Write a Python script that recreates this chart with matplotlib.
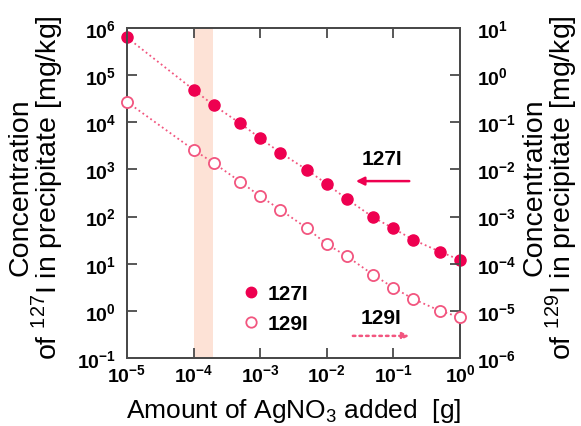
import numpy as np
import matplotlib.pyplot as plt
from matplotlib.lines import Line2D

plt.rcParams['font.family'] = ['Liberation Sans', 'DejaVu Sans']
plt.rcParams['mathtext.fontset'] = 'custom'
plt.rcParams['mathtext.rm'] = 'Liberation Sans'
plt.rcParams['mathtext.bf'] = 'Liberation Sans:bold'

# AgNO3 added [g]
agno3 = [1e-5, 1e-4, 2e-4, 5e-4, 1e-3, 2e-3, 5e-3, 1e-2, 2e-2, 5e-2, 1e-1, 2e-1, 5e-1, 1.0]
# 127I in precipitate [mg/kg] (left axis)
i127 = [6.3e5, 4.9e4, 2.3e4, 9.5e3, 4.6e3, 2.27e3, 986, 490, 236, 96, 56, 32, 18, 12]
# 129I in precipitate [mg/kg] (right axis)
i129 = [2.7e-1, 2.6e-2, 1.37e-2, 5.5e-3, 2.7e-3, 1.4e-3, 5.7e-4, 2.6e-4, 1.44e-4,
        5.8e-5, 3.1e-5, 1.78e-5, 1.0e-5, 7.3e-6]

xticks = [1e-5, 1e-4, 1e-3, 1e-2, 1e-1, 1e0]
xexp = [-5, -4, -3, -2, -1, 0]
yticks_left = [1e-1, 1e0, 1e1, 1e2, 1e3, 1e4, 1e5, 1e6]
yexp_left = [-1, 0, 1, 2, 3, 4, 5, 6]
yticks_right = [1e-6, 1e-5, 1e-4, 1e-3, 1e-2, 1e-1, 1e0, 1e1]
yexp_right = [-6, -5, -4, -3, -2, -1, 0, 1]
span = (1e-4, 1.95e-4)

red = '#ee0050'
pink = '#f2557f'
gray = '#4a4a4a'

fig = plt.figure(figsize=(5.81, 4.27), dpi=100)
ax = fig.add_axes([0.2186, 0.1593, 0.5731, 0.7728])
ax2 = ax.twinx()

ax.axvspan(span[0], span[1], color='#fde2d6', zorder=0, lw=0)

ax.plot(agno3, i127, ls=':', color=pink, lw=1.3, zorder=2)
ax.plot(agno3, i127, 'o', ms=8, color=red, mec=red, zorder=3, clip_on=False)
ax2.plot(agno3, i129, ls=':', color=pink, lw=1.3, zorder=2)
ax2.plot(agno3, i129, 'o', ms=8, mfc='white', mec=pink, mew=1.3, zorder=3, clip_on=False)

for a in (ax, ax2):
    a.set_xscale('log')
    a.set_yscale('log')
    for s in a.spines.values():
        s.set_color(gray)
        s.set_linewidth(1.4)

ax.set_xlim(1e-5, 1.0)
ax.set_ylim(1e-1, 1e6)
ax2.set_ylim(1e-6, 1e1)

ax.set_xticks(xticks)
ax.set_xticklabels([r'$\mathbf{10^{%d}}$' % e for e in xexp], fontsize=14)
ax.set_yticks(yticks_left)
ax.set_yticklabels([r'$\mathbf{10^{%d}}$' % e for e in yexp_left], fontsize=14)
ax2.set_yticks(yticks_right)
ax2.set_yticklabels([r'$\mathbf{10^{%d}}$' % e for e in yexp_right], fontsize=14)
ax.tick_params(axis='x', direction='in', top=True, length=7, width=1.3, color=gray, pad=4)
ax.tick_params(axis='y', direction='in', length=7, width=1.3, color=gray, pad=8)
ax2.tick_params(axis='y', direction='in', length=7, width=1.3, color=gray, pad=12)
ax.minorticks_off()
ax2.minorticks_off()

ax.set_xlabel(r'Amount of AgNO$_3$ added  [g]', fontsize=19)
ax.xaxis.set_label_coords(0.5, -0.115)
ax.set_ylabel('Concentration\n' + r'of $^{127}$I in precipitate [mg/kg]',
              fontsize=20.5, linespacing=0.85)
ax.yaxis.set_label_coords(-0.185, 0.52)
ax2.set_ylabel('Concentration\n' + r'of $^{129}$I in precipitate [mg/kg]',
               fontsize=20.5, linespacing=0.85, rotation=90, va='top')
ax2.yaxis.set_label_coords(1.185, 0.52)

handles = [Line2D([], [], ls='none', marker='o', ms=7.5, color=red),
           Line2D([], [], ls='none', marker='o', ms=7.5, mfc='white', mec=pink, mew=1.3)]
ax.legend(handles, ['127I', '129I'], loc='upper left', bbox_to_anchor=(0.31, 0.25),
          frameon=False, prop={'weight': 'bold', 'size': 15}, handletextpad=0.2,
          labelspacing=0.55, borderaxespad=0, handlelength=1.2)

ax.annotate('', xy=(0.679, 0.536), xytext=(0.856, 0.536), xycoords='axes fraction',
            arrowprops=dict(arrowstyle='-|>', color=red, lw=1.8, mutation_scale=12))
ax.text(0.766, 0.606, '127I', transform=ax.transAxes, fontsize=15, weight='bold',
        ha='center', va='center')
ax.annotate('', xy=(0.856, 0.067), xytext=(0.67, 0.067), xycoords='axes fraction',
            arrowprops=dict(arrowstyle='-|>', color=pink, lw=1.8, ls=':', mutation_scale=10))
ax.text(0.763, 0.124, '129I', transform=ax.transAxes, fontsize=15, weight='bold',
        ha='center', va='center')

fig.savefig('out.png', dpi=100)
